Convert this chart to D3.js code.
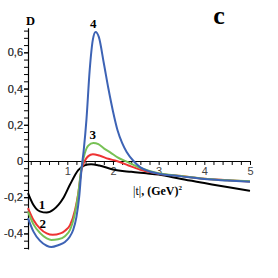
<!DOCTYPE html>
<html>
<head>
<meta charset="utf-8">
<script src="https://cdn.jsdelivr.net/npm/d3@7"></script>
<style>
  body { margin: 0; background: #fff; }
  .tick text { font-family: "Liberation Sans", Arial, sans-serif; font-size: 11px; fill: #444; }
  .lbl { font-family: "Liberation Serif", "DejaVu Serif", serif; font-weight: bold; fill: #000; }
</style>
</head>
<body>
<div id="chart"></div>
<script>
// curve values: [ |t|, D ]
var curve1 = [[0.14,-0.177],[0.26,-0.243],[0.4,-0.278],[0.55,-0.285],[0.7,-0.268],[0.91,-0.206],[1.06,-0.13],[1.24,-0.05],[1.38,-0.024],[1.52,-0.018],[1.7,-0.025],[2.0,-0.047],[2.4,-0.06],[2.73,-0.068],[3.0,-0.075],[3.5,-0.1],[4.0,-0.122],[4.5,-0.144],[5.0,-0.165]];
var curve2 = [[0.14,-0.26],[0.26,-0.326],[0.4,-0.372],[0.55,-0.4],[0.68,-0.408],[0.85,-0.4],[0.95,-0.385],[1.06,-0.354],[1.17,-0.27],[1.24,-0.18],[1.31,-0.05],[1.38,0.0],[1.46,0.027],[1.56,0.037],[1.7,0.03],[1.9,0.012],[2.08,0.0],[2.34,-0.025],[2.6,-0.048],[3.0,-0.07],[3.5,-0.083],[4.0,-0.098],[4.5,-0.106],[5.0,-0.113]];
var curve3 = [[0.14,-0.28],[0.26,-0.35],[0.4,-0.397],[0.55,-0.427],[0.65,-0.436],[0.8,-0.432],[0.95,-0.415],[1.06,-0.38],[1.15,-0.31],[1.23,-0.2],[1.31,-0.04],[1.38,0.04],[1.46,0.085],[1.57,0.1],[1.68,0.093],[1.8,0.07],[1.94,0.048],[2.1,0.02],[2.3,-0.004],[2.55,-0.033],[2.8,-0.055],[3.0,-0.068],[3.5,-0.083],[4.0,-0.098],[4.5,-0.106],[5.0,-0.112]];
var curve4 = [[0.14,-0.315],[0.26,-0.39],[0.4,-0.44],[0.55,-0.468],[0.65,-0.475],[0.8,-0.465],[0.95,-0.447],[1.05,-0.42],[1.13,-0.38],[1.2,-0.31],[1.26,-0.2],[1.31,-0.05],[1.36,0.06],[1.42,0.23],[1.49,0.5],[1.56,0.67],[1.62,0.712],[1.69,0.685],[1.8,0.54],[1.9,0.4],[2.0,0.275],[2.1,0.17],[2.2,0.1],[2.3,0.05],[2.45,0.0],[2.6,-0.035],[2.8,-0.058],[3.0,-0.07],[3.5,-0.085],[4.0,-0.1],[4.5,-0.108],[5.0,-0.115]];

var seriesNames = ["1", "2", "3", "4"];
var xTickLabels = [1, 2, 3, 4, 5];
var yTickLabels = [-0.4, -0.2, 0, 0.2, 0.4, 0.6];

var svgWidth = 278;
var svgHeight = 278;

var svg = d3.select("#chart")
  .append("svg")
  .attr("width", svgWidth)
  .attr("height", svgHeight);

var x = d3.scaleLinear().domain([0.14, 5]).range([28, 250]);
var y = d3.scaleLinear().domain([-0.486, 0.736]).range([249, 27.7]);

function fmt(d) {
  if (Math.abs(d) < 1e-9) return "0";
  return (d < 0 ? "-" : "") + Math.abs(d).toFixed(1).replace(".", ",");
}

// minor ticks
var xMinor = d3.range(2, 51, 2).map(d => d / 10);
var yMinor = d3.range(-12, 19).map(d => d * 0.04);

var xAxis = d3.axisBottom(x)
  .tickValues(xMinor)
  .tickSize(4)
  .tickSizeOuter(0)
  .tickPadding(2)
  .tickFormat(d => xTickLabels.some(v => Math.abs(v - d) < 1e-6) ? d : "");

var yAxis = d3.axisLeft(y)
  .tickValues(yMinor.concat(yTickLabels))
  .tickSize(4)
  .tickSizeOuter(0)
  .tickPadding(1)
  .tickFormat(d => yTickLabels.some(v => Math.abs(v - d) < 1e-6) ? fmt(d) : "");

var gx = svg.append("g")
  .attr("transform", `translate(0, ${y(0)})`)
  .call(xAxis);

var gy = svg.append("g")
  .attr("transform", `translate(${x(0.14)}, 0)`)
  .call(yAxis);

svg.selectAll(".domain").attr("stroke", "#000").attr("stroke-width", 1.2);
svg.selectAll(".tick line").attr("stroke", "#000").attr("stroke-width", 1);

// curves
var colors = ["#000000", "#ee3333", "#77c155", "#3d63b5"];
var line = d3.line()
  .x(d => x(d[0]))
  .y(d => y(d[1]))
  .curve(d3.curveMonotoneX);

var curves = [curve1, curve2, curve3, curve4];
svg.selectAll(".curve")
  .data(curves)
  .enter()
  .append("path")
  .attr("class", "curve")
  .attr("d", line)
  .attr("fill", "none")
  .attr("stroke", (d, i) => colors[i])
  .attr("stroke-width", 2);

// curve numbers
var labelPos = [[42, 209], [42.7, 228], [92.7, 139], [93.3, 28]];
svg.selectAll(".num")
  .data(seriesNames)
  .enter()
  .append("text")
  .attr("class", "lbl")
  .attr("x", (d, i) => labelPos[i][0])
  .attr("y", (d, i) => labelPos[i][1])
  .attr("text-anchor", "middle")
  .style("font-size", "13px")
  .text(d => d);

// axis titles
svg.append("text")
  .attr("class", "lbl")
  .attr("x", 26)
  .attr("y", 25)
  .style("font-size", "12.5px")
  .text("D");

var xt = svg.append("text")
  .attr("class", "lbl")
  .attr("x", 133)
  .attr("y", 195)
  .style("font-size", "12px");
xt.append("tspan").style("font-weight", "normal").text("|t|");
xt.append("tspan").text(", (GeV)");
xt.append("tspan").attr("dy", -5).style("font-size", "7px").text("2");

svg.append("text")
  .attr("class", "lbl")
  .attr("x", 219)
  .attr("y", 23.5)
  .attr("text-anchor", "middle")
  .style("font-size", "26px")
  .text("c");
</script>
</body>
</html>
